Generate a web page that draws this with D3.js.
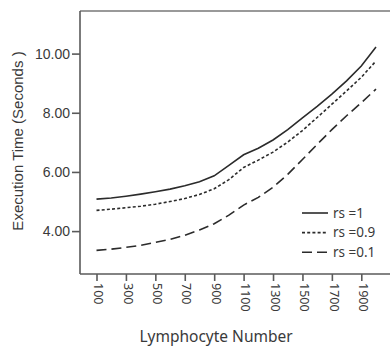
<!DOCTYPE html>
<html>
<head>
<meta charset="utf-8">
<script src="https://cdn.jsdelivr.net/npm/d3@7"></script>
<style>
  body { margin: 0; background: #fff; }
  svg { display: block; }
</style>
</head>
<body>
<svg id="chart"></svg>
<script>
// lymphocyte count (x) and execution times per rs setting
const lymphocytes = [100, 200, 300, 400, 500, 600, 700, 800, 900, 1000, 1100, 1200, 1300, 1400, 1500, 1600, 1700, 1800, 1900, 2000];
const rs1 = [5.08, 5.12, 5.18, 5.25, 5.33, 5.42, 5.53, 5.67, 5.87, 6.22, 6.58, 6.80, 7.08, 7.43, 7.83, 8.22, 8.63, 9.08, 9.58, 10.22];
const rs09 = [4.70, 4.74, 4.79, 4.84, 4.91, 5.00, 5.10, 5.24, 5.43, 5.74, 6.15, 6.40, 6.67, 7.01, 7.40, 7.84, 8.29, 8.74, 9.20, 9.75];
const rs01 = [3.35, 3.39, 3.45, 3.52, 3.62, 3.72, 3.86, 4.04, 4.25, 4.54, 4.88, 5.14, 5.48, 5.92, 6.42, 6.93, 7.43, 7.90, 8.34, 8.80];
const xTicks = [100, 300, 500, 700, 900, 1100, 1300, 1500, 1700, 1900];
const yTicks = [4, 6, 8, 10];
const seriesNames = ['rs =1', 'rs =0.9', 'rs =0.1'];

const config = {
  width: 390,
  height: 347,
  left: 80, // plot box
  right: 390,
  top: 11,
  bottom: 274,
  axisColor: '#5a5a5a',
  lineColor: '#2b2b2b',
  sansTahoma: '"Noto Sans", "Open Sans", sans-serif',
  sansArial: '"Liberation Sans", Arial, sans-serif',
};

const c = config;
const svg = d3.select('#chart').attr('width', c.width).attr('height', c.height);

const x = d3.scaleLinear([100, 2000], [96.5, 376]);
const y = d3.scaleLinear([2.55, 11.44], [c.bottom, c.top]);

/**
 * frame: top edge, left and bottom axes
 */
svg.append('line')
  .attr('x1', c.left).attr('x2', c.right)
  .attr('y1', c.top).attr('y2', c.top)
  .attr('stroke', '#777').attr('stroke-width', 1.6);

const yAxis = d3.axisLeft(y).tickValues(yTicks).tickFormat(d3.format('.2f')).tickSize(8).tickPadding(2);
svg.append('g')
  .attr('transform', `translate(${c.left},0)`)
  .call(yAxis)
  .call((g) => g.select('.domain').attr('d', `M0,${c.top}V${c.bottom}`))
  .call((g) => g.selectAll('path, line').attr('stroke', c.axisColor).attr('stroke-width', 1.6))
  .call((g) => g.selectAll('text')
    .attr('fill', '#3a3a3a')
    .style('font-family', c.sansArial)
    .style('font-size', '14px'));

const xAxis = d3.axisBottom(x).tickValues(xTicks).tickSize(7).tickFormat(d3.format('d'));
svg.append('g')
  .attr('transform', `translate(0,${c.bottom})`)
  .call(xAxis)
  .call((g) => g.select('.domain').attr('d', `M${c.left},0H${c.right}`))
  .call((g) => g.selectAll('path, line').attr('stroke', c.axisColor).attr('stroke-width', 1.6))
  .call((g) => g.selectAll('text')
    .attr('fill', '#3a3a3a')
    .attr('y', 0)
    .attr('dy', null)
    .attr('text-anchor', 'start')
    .attr('dominant-baseline', 'middle')
    .attr('transform', 'translate(0.5,9) rotate(90)')
    .style('font-family', c.sansTahoma)
    .style('font-size', '12.5px'));

/**
 * axis titles
 */
svg.append('text')
  .attr('transform', `translate(23,141) rotate(-90)`)
  .attr('text-anchor', 'middle')
  .attr('fill', '#3a3a3a')
  .style('font-family', c.sansArial)
  .style('font-size', '15px')
  .text('Execution Time (Seconds )');

svg.append('text')
  .attr('x', 216)
  .attr('y', 342)
  .attr('text-anchor', 'middle')
  .attr('fill', '#3a3a3a')
  .style('font-family', c.sansTahoma)
  .style('font-size', '15.5px')
  .text('Lymphocyte Number');

/**
 * lines
 */
const styles = [
  { values: rs1, dash: null },
  { values: rs09, dash: '3,2.2' },
  { values: rs01, dash: '10,5' },
];
const line = d3.line()
  .curve(d3.curveLinear)
  .x((i) => x(lymphocytes[i]));

styles.forEach((s) => {
  svg.append('path')
    .attr('fill', 'none')
    .attr('stroke', c.lineColor)
    .attr('stroke-width', 1.6)
    .attr('stroke-dasharray', s.dash)
    .attr('d', line.y((i) => y(s.values[i]))(d3.range(lymphocytes.length)));
});

/**
 * legend
 */
const legend = svg.append('g').attr('transform', 'translate(302,213)');
seriesNames.forEach((name, i) => {
  const row = legend.append('g').attr('transform', `translate(0,${i * 19.6})`);
  row.append('line')
    .attr('x1', 0).attr('x2', 26)
    .attr('stroke', c.lineColor)
    .attr('stroke-width', 1.6)
    .attr('stroke-dasharray', styles[i].dash);
  row.append('text')
    .attr('x', 31)
    .attr('dy', '0.35em')
    .attr('fill', '#3a3a3a')
    .style('font-family', c.sansTahoma)
    .style('font-size', '13.5px')
    .text(name);
});
</script>
</body>
</html>
